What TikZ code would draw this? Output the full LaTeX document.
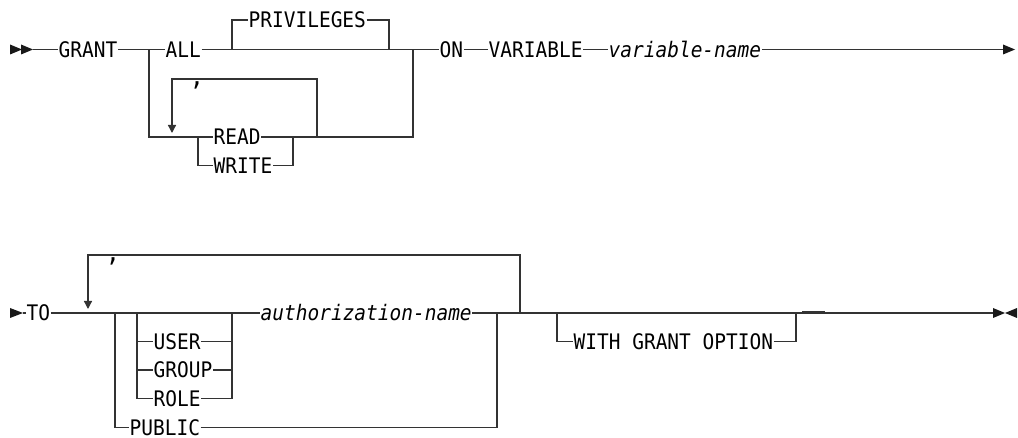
\documentclass[tikz,border=0pt]{standalone}
\usepackage{fontspec}
\setmainfont{DejaVu Sans Mono}[FakeStretch=0.91]
\usetikzlibrary{arrows.meta}

\begin{document}
\begin{tikzpicture}[
  x=1pt, y=-1pt,
  font=\fontsize{21.4}{24}\selectfont,
  rail/.style={draw=black!80, line width=1.3pt},
  kw/.style={anchor=west, inner xsep=0.5pt, inner ysep=0pt, text height=15.6pt, text depth=0pt},
  var/.style={kw, font=\fontsize{21.4}{24}\selectfont\itshape},
  sep/.style={anchor=north, inner sep=0pt, font=\fontsize{26}{28}\selectfont},
  loop/.style={rail, -{Triangle[width=8pt,length=8pt]}},
  tip/.style={fill=black!90},
]
\useasboundingbox (0,0) rectangle (1018,438);
% ===================== WIERSZ 1 (gora) =====================
\fill[tip] (10,44.5) -- (22,49.5) -- (10,54.5) -- cycle;
\fill[tip] (21,44.5) -- (33,49.5) -- (21,54.5) -- cycle;
\coordinate (s1) at (33,49.5);
\node[kw] (grant) at (58,49.5) {GRANT};
\coordinate (a1) at (149,49.5);
\coordinate (a2) at (413,49.5);
\node[kw] (all) at (165,49.5) {ALL};
% --- PRIVILEGES ---
\coordinate (p1) at (232,49.5);
\coordinate (p2) at (389,49.5);
\node[kw] (priv) at (248,20) {PRIVILEGES};
% --- READ / WRITE z petla ---
\coordinate (r1) at (198,137);
\coordinate (r2) at (293,137);
\node[kw] (read) at (213,137) {READ};
\node[kw] (write) at (213,165.5) {WRITE};
\coordinate (c1) at (172,79);
\coordinate (c1tip) at (172,133);
\coordinate (c2) at (317,79);
\coordinate (c3) at (317,137);
\node[sep] (comma1) at (197,81) {,};
% --- ON VARIABLE ---
\node[kw] (on) at (439,49.5) {ON};
\node[kw] (varkw) at (488,49.5) {VARIABLE};
\node[var] (varname) at (608,49.5) {variable-name};
\coordinate (e1) at (1003,49.5);

\draw[rail] (s1) -- (grant.west);
\draw[rail] (grant.east) -- (a1) -- (all.west);
\draw[rail] (all.east) -- (p1) -- (p2) -- (a2) -- (on.west);
\draw[rail] (p1) |- (priv.west);
\draw[rail] (priv.east) -| (p2);
\draw[rail] (a1) |- (read.west);
\draw[rail] (read.east) -| (a2);
\draw[rail] (r1) |- (write.west);
\draw[rail] (write.east) -| (r2);
\draw[loop] (c3) -- (c2) -- (c1) -- (c1tip);
\draw[rail] (on.east) -- (varkw.west);
\draw[rail] (varkw.east) -- (varname.west);
\draw[rail] (varname.east) -- (e1);
\fill[tip] (1003,44.5) -- (1015,49.5) -- (1003,54.5) -- cycle;
% ===================== WIERSZ 2 (dol) =====================
\fill[tip] (10,308) -- (23,313) -- (10,318) -- cycle;
\coordinate (s2) at (23,313);
\node[kw] (to) at (26,313) {TO};
% --- petla z przecinkiem ---
\coordinate (l1) at (88,255);
\coordinate (l1tip) at (88,309);
\coordinate (l2) at (520,255);
\coordinate (l3) at (520,313);
\node[sep] (comma2) at (113,257) {,};
% --- PUBLIC ---
\coordinate (b1) at (115,313);
\coordinate (b2) at (497,313);
\node[kw] (public) at (129,427.5) {PUBLIC};
% --- USER / GROUP / ROLE ---
\coordinate (u1) at (137,313);
\coordinate (u2) at (232,313);
\node[var] (auth) at (260,313) {authorization-name};
\foreach \name/\yy in {USER/341.5, GROUP/370, ROLE/398.5} {
  \node[kw] (\name) at (153,\yy) {\name};
  \draw[rail] (u1) |- (\name.west);
  \draw[rail] (\name.east) -| (u2);
}
% --- WITH GRANT OPTION ---
\coordinate (w1) at (557,313);
\coordinate (w2) at (796,313);
\node[kw] (with) at (573,341.5) {WITH GRANT OPTION};
\coordinate (d1) at (802,312.3);
\coordinate (d2) at (825,312.3);
\coordinate (e2) at (993,313);

\draw[rail] (s2) -- (to.west);
\draw[rail] (to.east) -- (b1) -- (u1) -- (u2) -- (auth.west);
\draw[rail] (auth.east) -- (b2) -- (l3) -- (w1) -- (w2) -- (e2);
\draw[rail] (b1) |- (public.west);
\draw[rail] (public.east) -| (b2);
\draw[loop] (l3) -- (l2) -- (l1) -- (l1tip);
\draw[rail] (w1) |- (with.west);
\draw[rail] (with.east) -| (w2);
\draw[rail, line width=2pt] (d1) -- (d2);
\fill[tip] (993,308) -- (1005,313) -- (993,318) -- cycle;
\fill[tip] (1017,308) -- (1005,313) -- (1017,318) -- cycle;
\end{tikzpicture}
\end{document}
